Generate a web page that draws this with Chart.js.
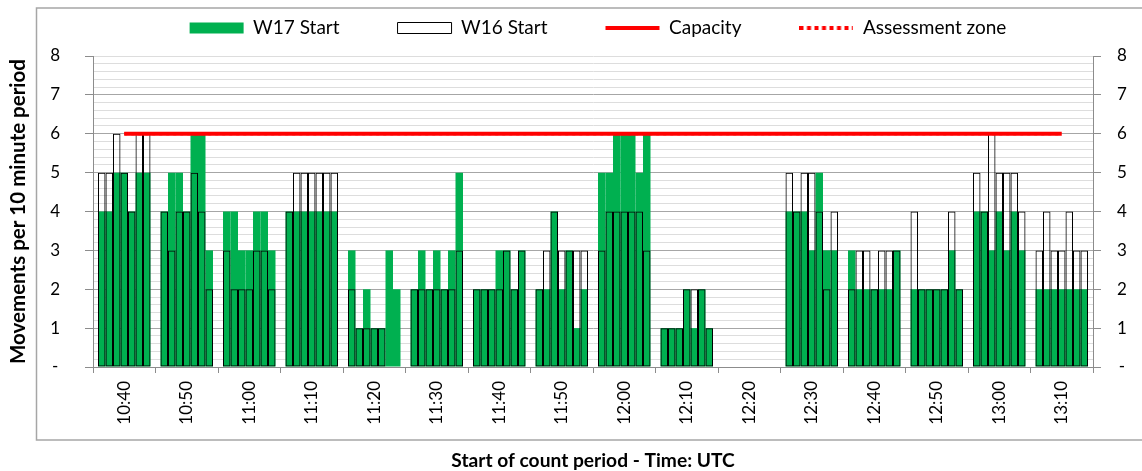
<!DOCTYPE html>
<html>
<head>
<meta charset="utf-8">
<title>Movements per 10 minute period</title>
<script src="https://cdn.jsdelivr.net/npm/chart.js@4.4.1/dist/chart.umd.min.js"></script>
<style>
  html, body { margin: 0; padding: 0; background: #fff; }
  #wrap { width: 1142px; height: 471px; }
</style>
</head>
<body>
<div id="wrap"><canvas id="movementsChart"></canvas></div>
<script>
// count periods (one label per 10 minutes)
const times = ["10:40", "10:50", "11:00", "11:10", "11:20", "11:30", "11:40", "11:50",
  "12:00", "12:10", "12:20", "12:30", "12:40", "12:50", "13:00", "13:10"];

// 7 rolling values per period
const w17Start = [
  4, 4, 5, 5, 4, 5, 5,
  4, 5, 5, 4, 6, 6, 3,
  4, 4, 3, 3, 4, 4, 3,
  4, 4, 4, 4, 4, 4, 4,
  3, 1, 2, 1, 1, 3, 2,
  2, 3, 2, 3, 2, 3, 5,
  2, 2, 2, 3, 3, 2, 3,
  2, 2, 4, 2, 3, 1, 2,
  5, 5, 6, 6, 6, 5, 6,
  1, 1, 1, 2, 1, 2, 1,
  null, null, null, null, null, null, null,
  4, 4, 4, 3, 5, 3, 3,
  3, 2, 2, 2, 2, 2, 3,
  2, 2, 2, 2, 2, 3, 2,
  4, 4, 3, 4, 3, 4, 3,
  2, 2, 2, 2, 2, 2, 2
];
const w16Start = [
  5, 5, 6, 5, 4, 6, 6,
  4, 3, 4, 4, 5, 4, 2,
  3, 2, 2, 2, 3, 3, 2,
  4, 5, 5, 5, 5, 5, 5,
  2, 1, 1, 1, 1, null, null,
  2, 2, 2, 2, 2, 2, 3,
  2, 2, 2, 2, 3, 2, 3,
  2, 3, 4, 3, 3, 3, 3,
  3, 4, 4, 4, 4, 4, 3,
  1, 1, 1, 2, 2, 2, 1,
  null, null, null, null, null, null, null,
  5, 4, 5, 5, 4, 2, 4,
  2, 3, 3, 2, 3, 3, 3,
  4, 2, 2, 2, 2, 4, 2,
  5, 4, 6, 5, 5, 5, 4,
  3, 4, 3, 3, 4, 3, 3
];
const capacity = [6, 6, 6, 6, 6, 6, 6, 6, 6, 6, 6, 6, 6, 6, 6, 6];
const assessmentZone = [6, 6, 6, 6, 6, 6, 6, 6, 6, 6, 6, 6, 6, 6, 6, 6];

const perPeriod = 7;
const slot = 0.12; // share of a period taken by one bar

// bars sit side by side inside their period
function barPoints(values) {
  return values.map((v, i) => ({
    x: Math.floor(i / perPeriod) + (i % perPeriod - (perPeriod - 1) / 2) * slot,
    y: v
  }));
}
function linePoints(values) {
  return values.map((v, i) => ({ x: i, y: v }));
}

const green = "#00B050";
const red = "#FF0000";
const axisGray = "#8C8C8C";
const majorGrid = "#A6A6A6";
const minorGrid = "#DDDDDD";

Chart.defaults.font.family = "Lato, 'Open Sans', sans-serif";
Chart.defaults.font.size = 17;
Chart.defaults.color = "#000";

const isWhole = (v) => Math.abs(v - Math.round(v)) < 1e-6;
const yLabel = (v) => isWhole(v) ? (Math.round(v) === 0 ? "-" : String(Math.round(v))) : "";

// dotted legend symbol (point styles ignore line dashes)
const dotted = document.createElement("canvas");
dotted.width = 54;
dotted.height = 4;
(function () {
  const c = dotted.getContext("2d");
  c.fillStyle = red;
  for (let x = 0; x < 54; x += 7.5) c.fillRect(x, 0, 4, 4);
})();

// frame around the plot like the spreadsheet chart
const framePlugin = {
  id: "frame",
  afterDraw(chart) {
    const ctx = chart.ctx;
    ctx.save();
    ctx.strokeStyle = "#A6A6A6";
    ctx.lineWidth = 1.5;
    ctx.strokeRect(36.5, 8, 1130, 432);
    ctx.restore();
  }
};

// legend row sits higher and a bit right of the default spot
// (only the top edge moves, the legend clips to its own box)
const legendPlacement = {
  id: "legendPlacement",
  afterLayout(chart) {
    const lg = chart.legend;
    lg.top -= 39.5;
    lg.left += 27; lg.right += 27;
  }
};

const legendStyles = ["rect", "rect", "line", dotted];

const chart = new Chart(document.getElementById("movementsChart"), {
  type: "bar",
  data: {
    datasets: [{
      label: "W17 Start",
      data: barPoints(w17Start),
      backgroundColor: green,
      borderWidth: 0,
      order: 3
    }, {
      label: "W16 Start",
      data: barPoints(w16Start),
      backgroundColor: "rgba(255,255,255,0)",
      borderColor: "#000",
      borderWidth: 1,
      order: 2
    }, {
      type: "line",
      label: "Capacity",
      data: linePoints(capacity),
      borderColor: red,
      backgroundColor: red,
      borderWidth: 4,
      pointRadius: 0,
      fill: false,
      order: 1
    }, {
      type: "line",
      label: "Assessment zone",
      data: linePoints(assessmentZone),
      borderColor: red,
      backgroundColor: red,
      borderWidth: 3,
      borderDash: [3, 4],
      pointRadius: 0,
      fill: false,
      order: 0
    }]
  },
  options: {
    responsive: true,
    maintainAspectRatio: false,
    animation: false,
    layout: { padding: 0 },
    datasets: {
      bar: {
        grouped: false,
        barPercentage: 1,
        categoryPercentage: 1,
        borderSkipped: false,
        inflateAmount: 0
      }
    },
    scales: {
      x: {
        type: "linear",
        display: false,
        min: -0.5,
        max: 15.5,
        offset: false,
        grid: { offset: false }
      },
      xl: {
        type: "category",
        labels: times,
        position: "bottom",
        offset: true,
        grid: { offset: true, drawOnChartArea: false, tickLength: 6, color: axisGray },
        border: { color: axisGray },
        ticks: { minRotation: 90, maxRotation: 90, padding: 8, autoSkip: false },
        title: {
          display: true,
          text: "Start of count period - Time: UTC",
          font: { weight: "bold", size: 19.2 },
          padding: { top: 0, bottom: -1 }
        },
        afterFit(scale) { scale.height = 104; }
      },
      y: {
        position: "left",
        min: 0,
        max: 8,
        grid: {
          color: (c) => (isWhole(c.tick.value) && c.tick.value < 8) ? majorGrid : minorGrid,
          tickColor: (c) => isWhole(c.tick.value) ? axisGray : "rgba(0,0,0,0)",
          tickLength: 8
        },
        border: { color: axisGray },
        ticks: { stepSize: 0.2, autoSkip: false, callback: yLabel, crossAlign: "center", padding: 25 },
        title: {
          display: true,
          text: "Movements per 10 minute period",
          font: { weight: "bold", size: 20.5 },
          padding: { top: 6, bottom: 0 }
        },
        afterFit(scale) { scale.width = 93; }
      },
      y2: {
        position: "right",
        min: 0,
        max: 8,
        grid: {
          drawOnChartArea: false,
          tickColor: (c) => isWhole(c.tick.value) ? axisGray : "rgba(0,0,0,0)",
          tickLength: 8
        },
        border: { color: axisGray },
        ticks: { stepSize: 0.2, autoSkip: false, callback: yLabel, crossAlign: "center", padding: 16 },
        afterFit(scale) { scale.width = 49; }
      }
    },
    plugins: {
      tooltip: { enabled: false },
      legend: {
        position: "top",
        maxHeight: 56,
        labels: {
          font: { size: 19 },
          usePointStyle: true,
          pointStyleWidth: 54,
          boxHeight: 11,
          padding: 58,
          generateLabels(chart) {
            const items = Chart.defaults.plugins.legend.labels.generateLabels(chart);
            items.forEach((it) => { it.pointStyle = legendStyles[it.datasetIndex]; });
            return items;
          },
          sort: (a, b) => a.datasetIndex - b.datasetIndex
        }
      }
    }
  },
  plugins: [framePlugin, legendPlacement]
});
</script>
</body>
</html>
